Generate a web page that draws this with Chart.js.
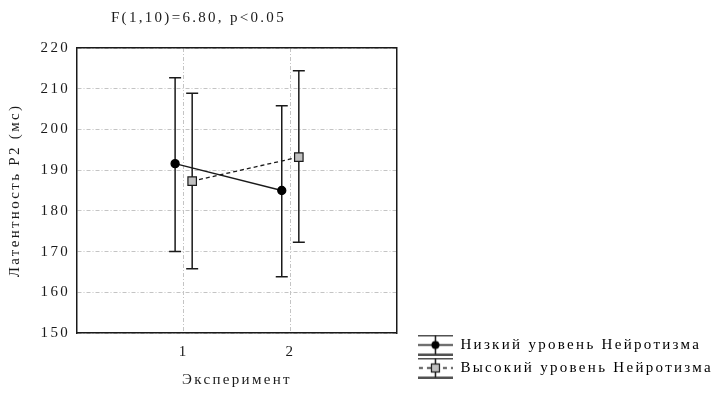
<!DOCTYPE html>
<html>
<head>
<meta charset="utf-8">
<script src="https://cdn.jsdelivr.net/npm/chart.js@4.4.0/dist/chart.umd.min.js"></script>
<style>
  html, body { margin: 0; padding: 0; background: #fff; }
</style>
</head>
<body>
<canvas id="chart" width="720" height="395"></canvas>
<script>
// data
const experiments = [1, 2];
const xTickLabels = ['1', '2'];
const seriesNames = ['Низкий уровень Нейротизма', 'Высокий уровень Нейротизма'];
const lowMeans  = [191.6, 185.0];
const lowLower  = [170.0, 163.8];
const lowUpper  = [212.7, 205.8];
const highMeans = [187.3, 193.2];
const highLower = [165.8, 172.3];
const highUpper = [208.9, 214.4];
const yMin = 150, yMax = 220, yStep = 10;
const chartTitle = 'F(1,10)=6.80, p<0.05';
const xTitle = 'Эксперимент';
const yTitle = 'Латентность P2 (мс)';

const SHIFT = 0.08;          // small side offset of the two groups
const FONT = "'Liberation Serif', 'Times New Roman', serif";
const INK = '#1a1a1a';
const SPACING = '2.3px';

function points(means, dx) {
  return means.map((m, i) => ({ x: experiments[i] + dx, y: m }));
}

function legendSymbol(kind) {
  const c = document.createElement('canvas');
  c.width = 35; c.height = 21;
  const g = c.getContext('2d');
  g.strokeStyle = INK; g.lineWidth = 1.5;
  g.beginPath();
  g.moveTo(0, 1); g.lineTo(35, 1);
  g.moveTo(0, 20); g.lineTo(35, 20);
  g.moveTo(17.5, 1); g.lineTo(17.5, 20);
  g.stroke();
  if (kind === 'low') {
    g.beginPath(); g.moveTo(0, 10.5); g.lineTo(35, 10.5); g.stroke();
    g.beginPath(); g.arc(17.5, 10.5, 4, 0, 2 * Math.PI);
    g.fillStyle = '#000'; g.fill();
  } else {
    g.setLineDash([4, 4]);
    g.beginPath(); g.moveTo(1, 10.5); g.lineTo(35, 10.5); g.stroke();
    g.setLineDash([]);
    g.fillStyle = '#c0c0c0';
    g.fillRect(13.5, 6.5, 8, 8);
    g.lineWidth = 1.2;
    g.strokeRect(13.5, 6.5, 8, 8);
  }
  return c;
}
const symbols = [legendSymbol('low'), legendSymbol('high')];

// letter spacing like the original rendering
const spacing = {
  id: 'spacing',
  beforeUpdate(chart) { chart.ctx.letterSpacing = SPACING; },
  beforeDraw(chart) { chart.ctx.letterSpacing = SPACING; }
};

const errorBars = {
  id: 'errorBars',
  beforeDatasetsDraw(chart) {
    const ctx = chart.ctx, xs = chart.scales.x, ys = chart.scales.y;
    ctx.save();
    ctx.strokeStyle = INK;
    ctx.lineWidth = 1.5;
    chart.data.datasets.forEach(ds => {
      ds.data.forEach((p, i) => {
        const x = xs.getPixelForValue(p.x);
        const y1 = ys.getPixelForValue(ds.lower[i]);
        const y2 = ys.getPixelForValue(ds.upper[i]);
        ctx.beginPath();
        ctx.moveTo(x, y1); ctx.lineTo(x, y2);
        ctx.moveTo(x - 6, y1); ctx.lineTo(x + 6, y1);
        ctx.moveTo(x - 6, y2); ctx.lineTo(x + 6, y2);
        ctx.stroke();
      });
    });
    ctx.restore();
  }
};

const topTitle = {
  id: 'topTitle',
  afterDraw(chart) {
    const ctx = chart.ctx;
    ctx.save();
    ctx.letterSpacing = SPACING;
    ctx.font = '15px ' + FONT;
    ctx.fillStyle = INK;
    ctx.textAlign = 'center';
    ctx.textBaseline = 'middle';
    ctx.fillText(chartTitle, (chart.scales.y.left + chart.chartArea.right) / 2, 18);
    ctx.restore();
  }
};

const frameScale = {
  display: true,
  grid: { display: false, drawTicks: false },
  ticks: { display: false },
  border: { display: true, color: INK, width: 1.5 }
};

new Chart(document.getElementById('chart'), {
  type: 'line',
  data: {
    datasets: [{
      label: seriesNames[0],
      data: points(lowMeans, -SHIFT),
      lower: lowLower,
      upper: lowUpper,
      borderColor: INK,
      borderWidth: 1.3,
      pointStyle: 'circle',
      pointRadius: 4,
      pointBackgroundColor: '#000',
      pointBorderColor: '#000',
      tension: 0
    }, {
      label: seriesNames[1],
      data: points(highMeans, SHIFT),
      lower: highLower,
      upper: highUpper,
      borderColor: INK,
      borderWidth: 1.3,
      borderDash: [4, 3],
      pointStyle: 'rect',
      pointRadius: 6,
      pointBackgroundColor: '#c0c0c0',
      pointBorderColor: INK,
      pointBorderWidth: 1.2,
      tension: 0
    }]
  },
  options: {
    responsive: false,
    animation: false,
    layout: { padding: { top: 48, right: -3, bottom: 11.5, left: 0 } },
    plugins: {
      title: { display: false },
      tooltip: { enabled: false },
      legend: {
        position: 'right',
        align: 'end',
        maxWidth: 340,
        labels: {
          usePointStyle: true,
          pointStyleWidth: 35,
          padding: 8,
          color: INK,
          font: { family: FONT, size: 15 },
          generateLabels(chart) {
            return chart.data.datasets.map((ds, i) => ({
              text: ds.label,
              pointStyle: symbols[i],
              fillStyle: '#000',
              strokeStyle: '#000',
              lineWidth: 0,
              hidden: false,
              datasetIndex: i
            }));
          }
        }
      }
    },
    scales: {
      x: {
        type: 'linear',
        min: 0,
        max: 3,
        afterBuildTicks: s => { s.ticks = experiments.map(v => ({ value: v })); },
        afterFit: s => { s.height = 50.5; },
        ticks: {
          padding: 10,
          color: INK,
          font: { family: FONT, size: 15 },
          callback: v => xTickLabels[experiments.indexOf(v)]
        },
        grid: { color: '#c4c4c4', lineWidth: 1, drawTicks: false },
        border: { color: INK, width: 1.5, dash: [4, 2, 1, 2] },
        title: {
          display: true,
          text: xTitle,
          color: INK,
          font: { family: FONT, size: 15 },
          padding: { top: 10, bottom: -5.5 }
        }
      },
      y: {
        min: yMin,
        max: yMax,
        afterFit: s => { s.width = 77; },
        ticks: {
          stepSize: yStep,
          padding: 7,
          color: INK,
          font: { family: FONT, size: 15 }
        },
        grid: { color: '#c4c4c4', lineWidth: 1, drawTicks: false },
        border: { color: INK, width: 1.5, dash: [4, 2, 1, 2] },
        title: {
          display: true,
          text: yTitle,
          color: INK,
          font: { family: FONT, size: 15 },
          padding: { top: 6, bottom: 0 }
        }
      },
      y2: Object.assign({ position: 'right', min: yMin, max: yMax,
        afterFit: s => { s.width = 13; } }, frameScale),
      x2: Object.assign({ type: 'linear', position: 'top', min: 0, max: 3,
        afterFit: s => { s.height = 0; } }, frameScale)
    }
  },
  plugins: [spacing, errorBars, topTitle]
});
</script>
</body>
</html>
